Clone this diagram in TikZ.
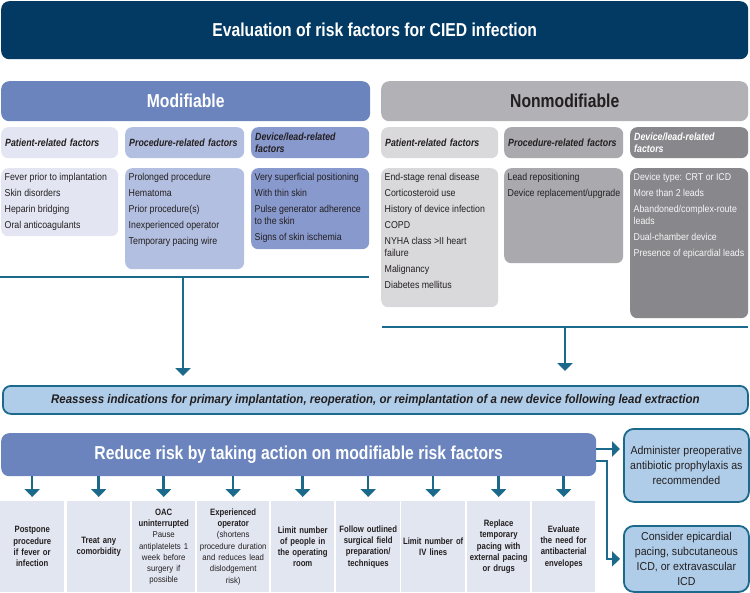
\documentclass[tikz,border=0pt]{standalone}
\usepackage{fontspec}
\setmainfont{Liberation Sans}[FakeStretch=0.92]
\newfontfamily\condf{Liberation Sans}[FakeStretch=0.84]
\newfontfamily\bodyf{Liberation Sans}[FakeStretch=0.88]
\usetikzlibrary{arrows.meta}
\definecolor{navy}{HTML}{033A63}
\definecolor{modc}{HTML}{6B84BD}
\definecolor{nonc}{HTML}{B1B1B6}
\definecolor{mpat}{HTML}{E3E6F2}
\definecolor{mpro}{HTML}{B3BFE0}
\definecolor{mdev}{HTML}{8899CE}
\definecolor{npat}{HTML}{D9D9DC}
\definecolor{npro}{HTML}{A9A9AE}
\definecolor{ndev}{HTML}{87878C}
\definecolor{tealc}{HTML}{1B6A8C}
\definecolor{lblue}{HTML}{AFCDE9}
\definecolor{txt}{HTML}{231F20}
\definecolor{botc}{HTML}{E2E6F1}
\newcommand\fbig{\condf\bfseries\fontsize{18.7}{22}\selectfont}
\newcommand\fhead{\condf\bfseries\itshape\fontsize{10.5}{12.5}\selectfont}
\newcommand\fbody{\bodyf\fontsize{10}{12}\selectfont}
\newcommand\fbotb{\condf\bfseries\fontsize{9.2}{11.3}\selectfont}
\newcommand\fbotn{\normalfont\fontsize{8.5}{11.3}\selectfont}
\newcommand\fright{\normalfont\fontsize{11.5}{14.8}\selectfont}
\newcommand\freas{\normalfont\bfseries\itshape\fontsize{12.5}{14}\selectfont}
\newcommand\nx{\par\vspace{4pt}}
\newcommand\cbx[8]{\node[cbox, fill=#6, text=#7] (#1) at (#2,#3) {\parbox[t][\dimexpr#5pt-10pt\relax][t]{\dimexpr#4pt-7pt\relax}{\fbody\raggedright #8}};}
\tikzset{
  rbox/.style={rounded corners=8pt, anchor=north west, inner sep=0pt},
  shead/.style={rounded corners=7pt, anchor=north west, inner xsep=4pt, inner ysep=0pt, minimum height=31pt, align=left, font=\fhead, text=txt},
  cbox/.style={rounded corners=7pt, anchor=north west, inner xsep=3.5pt, inner ysep=5pt},
  bbox/.style={anchor=north west, fill=botc, inner xsep=1pt, inner ysep=0pt, minimum height=91pt, align=center, text=txt, font=\fbotb},
  blbox/.style={rounded corners=10pt, anchor=north west, fill=lblue, draw=tealc, line width=1.8pt, align=center, text=txt, font=\fright, inner sep=0pt},
  arr/.style={draw=tealc, line width=2.5pt, -{Triangle[width=15pt,length=8pt]}},
  ln/.style={draw=tealc, line width=2.2pt}
}
\begin{document}
\begin{tikzpicture}[x=1pt,y=-1pt]
\useasboundingbox (0,0) rectangle (750,592);
% title
\node[rbox, fill=navy, minimum width=747pt, minimum height=58pt, text=white, font=\fbig] (title) at (1,1) {Evaluation of risk factors for CIED infection};
% group headers
\node[rbox, fill=modc, minimum width=369pt, minimum height=40pt, text=white, font=\fbig] (mod) at (1,81) {Modifiable};
\node[rbox, fill=nonc, minimum width=367pt, minimum height=40pt, text=txt, font=\fbig] (non) at (381,81) {Nonmodifiable};
% sub headers
\node[shead, fill=mpat, text width=109pt] (mph) at (1,127) {Patient-related factors};
\node[shead, fill=mpro, text width=111pt] (mrh) at (125,127) {Procedure-related factors};
\node[shead, fill=mdev, text width=110pt] (mdh) at (251,127) {Device/lead-related\\factors};
\node[shead, fill=npat, text width=109pt] (nph) at (381,127) {Patient-related factors};
\node[shead, fill=npro, text width=111pt] (nrh) at (504,127) {Procedure-related factors};
\node[shead, fill=ndev, text width=110pt, text=white] (ndh) at (630,127) {Device/lead-related\\factors};
% content boxes
\cbx{mp}{1}{168}{117}{68}{mpat}{txt}{Fever prior to implantation\nx Skin disorders\nx Heparin bridging\nx Oral anticoagulants}
\cbx{mr}{125}{168}{119}{101}{mpro}{txt}{Prolonged procedure\nx Hematoma\nx Prior procedure(s)\nx Inexperienced operator\nx Temporary pacing wire}
\cbx{md}{251}{168}{118}{81}{mdev}{txt}{Very superficial positioning\nx With thin skin\nx Pulse generator adherence\newline to the skin\nx Signs of skin ischemia}
\cbx{np}{381}{168}{117}{139}{npat}{txt}{End-stage renal disease\nx Corticosteroid use\nx History of device infection\nx COPD\nx NYHA class >II heart\newline failure\nx Malignancy\nx Diabetes mellitus}
\cbx{nr}{504}{168}{119}{95}{npro}{txt}{Lead repositioning\nx \mbox{Device replacement/upgrade}}
\cbx{nd}{630}{168}{118}{150}{ndev}{white!94!gray}{Device type: CRT or ICD\nx More than 2 leads\nx Abandoned/complex-route\newline leads\nx Dual-chamber device\nx \mbox{Presence of epicardial leads}}
% reassess
\node[rbox, rounded corners=8pt, fill=lblue, draw=tealc, line width=1.8pt, minimum width=745pt, minimum height=28pt, text=txt, font=\freas] (rea) at (2,385) {Reassess indications for primary implantation, reoperation, or reimplantation of a new device following lead extraction};
% brackets and arrows to reassess
\coordinate (mlL) at (0,277);
\coordinate (mlR) at (369,277);
\coordinate (mlA) at (183,277);
\coordinate (nlL) at (382,327);
\coordinate (nlR) at (748,327);
\coordinate (nlA) at (565,327);
\draw[ln] (mlL) -- (mlR);
\draw[ln] (nlL) -- (nlR);
\draw[arr, shorten >=9pt] (mlA) -- (mlA |- rea.north);
\draw[arr, shorten >=14pt] (nlA) -- (nlA |- rea.north);
% reduce risk
\node[rbox, fill=modc, minimum width=595pt, minimum height=43pt, text=white, font=\fbig] (red) at (1,433) {Reduce risk by taking action on modifiable risk factors};
% bottom boxes
\node[bbox, minimum width=64pt, text width=62pt] (b1) at (0,501) {Postpone\\procedure\\if fever or\\infection};
\node[bbox, minimum width=63pt, text width=61pt] (b2) at (67,501) {Treat any\\comorbidity};
\node[bbox, minimum width=63pt, text width=61pt] (b3) at (132,501) {OAC\\uninterrupted\\\fbotn Pause\\antiplatelets 1\\week before\\surgery if\\possible};
\node[bbox, minimum width=72pt, text width=70pt] (b4) at (197,501) {Experienced\\operator\\\fbotn (shortens\\procedure duration\\and reduces lead\\dislodgement\\risk)};
\node[bbox, minimum width=63pt, text width=61pt] (b5) at (271,501) {Limit number\\of people in\\the operating\\room};
\node[bbox, minimum width=64pt, text width=62pt] (b6) at (336,501) {Follow outlined\\surgical field\\preparation/\\techniques};
\node[bbox, minimum width=64pt, text width=62pt] (b7) at (401,501) {Limit number of\\IV lines};
\node[bbox, minimum width=63pt, text width=61pt] (b8) at (467,501) {Replace\\temporary\\pacing with\\external pacing\\or drugs};
\node[bbox, minimum width=63pt, text width=61pt] (b9) at (532,501) {Evaluate\\the need for\\antibacterial\\envelopes};
\foreach \b in {b1,b2,b3,b4,b5,b6,b7,b8,b9}
  \draw[arr, shorten >=4pt] (\b.north |- red.south) -- (\b.north);
% right boxes
\node[blbox, minimum width=125pt, minimum height=73pt] (adm) at (623,428) {Administer preoperative\\antibiotic prophylaxis as\\recommended};
\node[blbox, minimum width=125pt, minimum height=66pt] (cons) at (623,525) {Consider epicardial\\pacing, subcutaneous\\ICD, or extravascular\\ICD};
\coordinate (r1) at (596,449);
\coordinate (r2) at (596,461);
\draw[arr, shorten >=3pt] (r1) -- (r1 -| adm.west);
\draw[arr, shorten >=3pt] (r2) -- ++(11,0) |- (cons.west);
\end{tikzpicture}
\end{document}
